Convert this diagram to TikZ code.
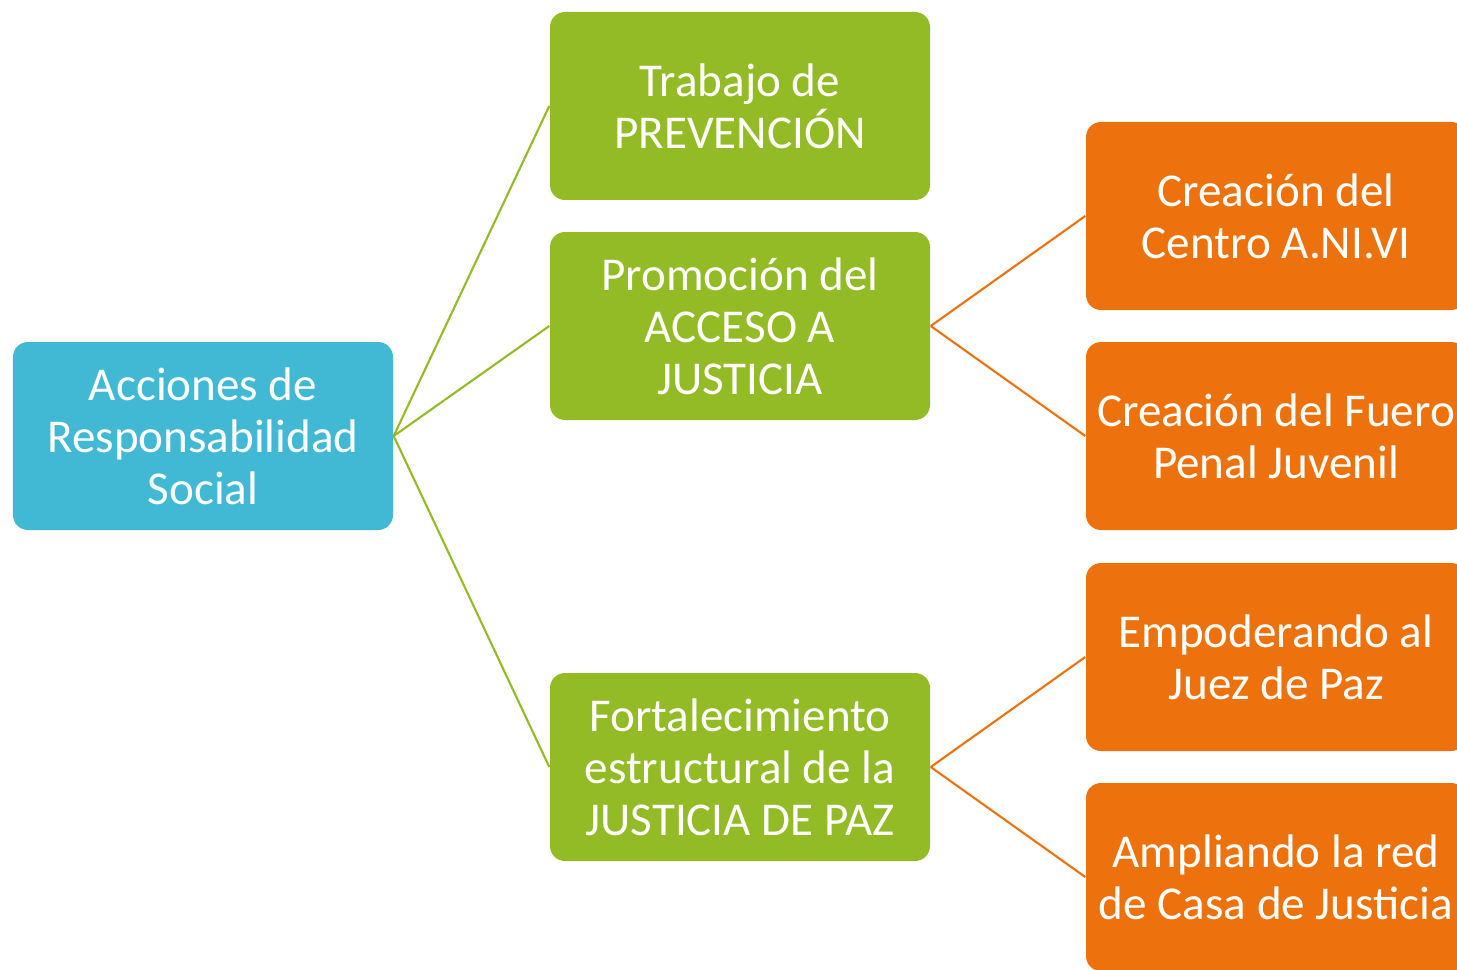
\documentclass[tikz,border=0pt]{standalone}
\usepackage{fontspec}
\setmainfont{Carlito}
\definecolor{acblue}{RGB}{65,185,213}
\definecolor{acgreen}{RGB}{147,187,37}
\definecolor{acorange}{RGB}{237,114,13}
\begin{document}
\begin{tikzpicture}[
    box/.style={rounded corners=.15cm,minimum width=3.8cm,minimum height=1.88cm,
        inner sep=0pt,align=center,text=white,font=\fontsize{13.4}{14.8}\selectfont},
    rootbox/.style={box,fill=acblue},
    greenbox/.style={box,fill=acgreen},
    orangebox/.style={box,fill=acorange},
    greenline/.style={draw=acgreen,line width=.6pt},
    orangeline/.style={draw=acorange,line width=.6pt}]
                    \useasboundingbox (0,0) rectangle (14.57,9.69);
                    \clip (0,0) rectangle (14.57,9.69);
                    \node[rootbox] (acc) at (2.03,5.33) {Acciones de\\Responsabilidad\\Social};
                    \node[greenbox] (prev) at (7.40,8.63) {Trabajo de\\PREVENCIÓN};
                    \node[greenbox] (acceso) at (7.40,6.43) {Promoción del\\ACCESO A\\JUSTICIA};
                    \node[greenbox] (paz) at (7.40,2.02) {Fortalecimiento\\estructural de la\\JUSTICIA DE PAZ};
                    \node[orangebox] (anivi) at (12.76,7.53) {Creación del\\Centro A.NI.VI};
                    \node[orangebox] (fuero) at (12.76,5.33) {Creación del Fuero\\Penal Juvenil};
                    \node[orangebox] (juez) at (12.76,3.12) {Empoderando al\\Juez de Paz};
                    \node[orangebox] (casa) at (12.76,0.92) {Ampliando la red\\de Casa de Justicia};
                    \draw[greenline] (acc.east) -- (prev.west);
                    \draw[greenline] (acc.east) -- (acceso.west);
                    \draw[greenline] (acc.east) -- (paz.west);
                    \draw[orangeline] (acceso.east) -- (anivi.west);
                    \draw[orangeline] (acceso.east) -- (fuero.west);
                    \draw[orangeline] (paz.east) -- (juez.west);
                    \draw[orangeline] (paz.east) -- (casa.west);
                \end{tikzpicture}
\end{document}
